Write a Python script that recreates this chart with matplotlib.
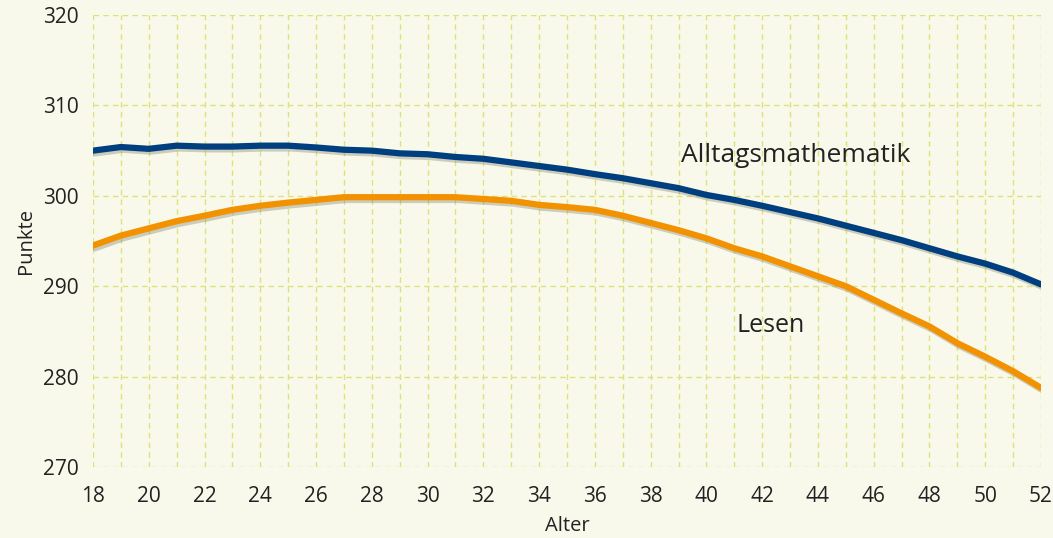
import numpy as np
import matplotlib.pyplot as plt
import matplotlib.patheffects as pe

plt.rcParams['font.family'] = ['Open Sans', 'DejaVu Sans']

# Alter (Jahre)
alter = [18, 19, 20, 21, 22, 23, 24, 25, 26, 27, 28, 29, 30, 31, 32, 33, 34, 35,
         36, 37, 38, 39, 40, 41, 42, 43, 44, 45, 46, 47, 48, 49, 50, 51, 52]

# Punkte
alltagsmathematik = [305.0, 305.4, 305.2, 305.55, 305.45, 305.45, 305.55, 305.55, 305.35, 305.1,
                     305.0, 304.7, 304.6, 304.3, 304.1, 303.7, 303.3, 302.9,
                     302.4, 301.95, 301.4, 300.85, 300.1, 299.55, 298.9, 298.2, 297.5, 296.7,
                     295.9, 295.1, 294.2, 293.3, 292.5, 291.5, 290.2]
lesen = [294.5, 295.6, 296.4, 297.2, 297.8, 298.45, 298.9, 299.25, 299.55, 299.85,
         299.85, 299.85, 299.85, 299.85, 299.65, 299.45, 299.0, 298.75,
         298.45, 297.8, 297.0, 296.2, 295.3, 294.2, 293.3, 292.2, 291.1, 290.0,
         288.5, 287.0, 285.55, 283.7, 282.2, 280.6, 278.75]

bg = '#f9f9eb'
grid_col = '#dfe27c'
txt = '#222222'

fig = plt.figure(figsize=(10.53, 5.38), dpi=100, facecolor=bg)
ax = fig.add_axes([0.0883, 0.132, 0.9003, 0.840])
ax.set_facecolor(bg)

# Schatten unter den Linien
shadow = [pe.SimpleLineShadow(offset=(1.5, -2), shadow_color='#666655', alpha=0.3), pe.Normal()]
ax.plot(alter, alltagsmathematik, color='#003f7f', lw=4.5, solid_capstyle='round', path_effects=shadow, zorder=3)
ax.plot(alter, lesen, color='#f39200', lw=4.5, solid_capstyle='round', path_effects=shadow, zorder=3)

ax.text(43.2, 304.5, 'Alltagsmathematik', fontsize=19, color=txt, ha='center', va='center')
ax.text(42.3, 285.7, 'Lesen', fontsize=18, color=txt, ha='center', va='center')

ax.set_xlim(18, 52)
ax.set_ylim(270, 320)
ax.set_xticks(np.arange(18, 53, 2))
ax.set_xticks(np.arange(18, 53, 1), minor=True)
ax.set_yticks(np.arange(270, 321, 10))
ax.grid(True, which='both', color=grid_col, linestyle=(0, (4, 3)), lw=1.0)
ax.set_axisbelow(True)
for s in ax.spines.values():
    s.set_visible(False)
ax.tick_params(which='both', length=0, labelsize=15, colors=txt)
ax.tick_params(axis='x', pad=14)
ax.tick_params(axis='y', pad=10)

ax.set_xlabel('Alter', fontsize=14.5, color=txt, labelpad=6)
ax.set_ylabel('Punkte', fontsize=14.5, color=txt, labelpad=5)

fig.savefig('out.png', dpi=100, facecolor=bg)
